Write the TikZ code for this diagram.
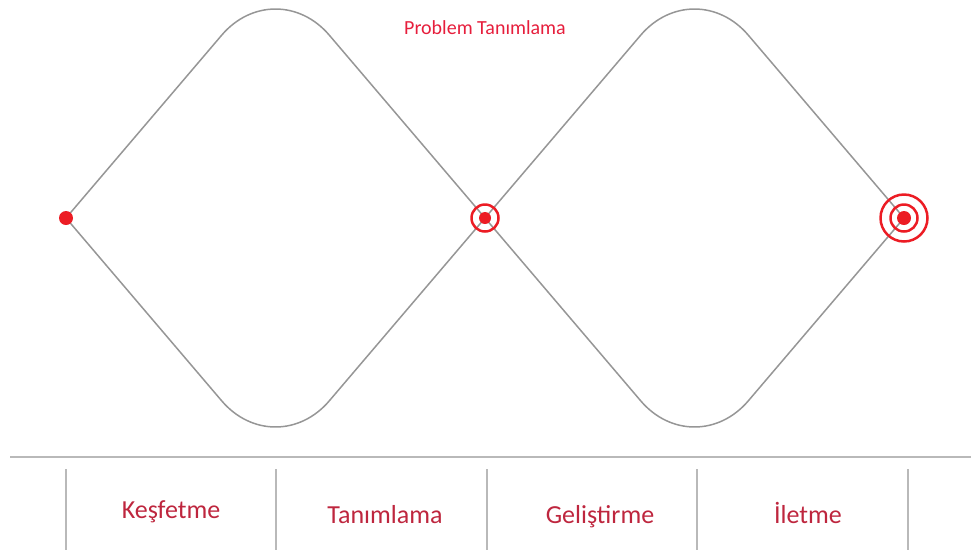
\documentclass[tikz,border=0pt]{standalone}
\usepackage{fontspec}
\setmainfont{Carlito}
\usetikzlibrary{positioning}
\definecolor{pathgray}{RGB}{150,150,150}
\definecolor{rulegray}{RGB}{185,185,185}
\definecolor{dotred}{RGB}{236,28,36}
\definecolor{titlered}{RGB}{230,30,60}
\definecolor{phasered}{RGB}{190,38,62}

\begin{document}
\begin{tikzpicture}[
  x=1pt, y=-1pt,
  curve/.style={draw=pathgray, line width=1.5pt, rounded corners=83pt},
  rule/.style={draw=rulegray, line width=1.2pt},
  dot/.style={circle, fill=dotred, inner sep=0pt, minimum size=14pt},
  ring/.style={circle, draw=dotred, line width=2.5pt, inner sep=0pt},
  phase/.style={text=phasered, font=\fontsize{26}{30}\selectfont, anchor=base},
  title/.style={text=titlered, font=\fontsize{20}{24}\selectfont, anchor=base}
]
\useasboundingbox (0,0) rectangle (971,550);
% vertices of the two diamonds
\coordinate (start) at (66,218);
\coordinate (mid) at (485,218);
\coordinate (goal) at (904,218);
\coordinate (top1) at (275.5,-28);
\coordinate (bot1) at (275.5,464);
\coordinate (top2) at (694.5,-28);
\coordinate (bot2) at (694.5,464);
\draw[curve] (start) -- (top1) -- (mid);
\draw[curve] (start) -- (bot1) -- (mid);
\draw[curve] (mid) -- (top2) -- (goal);
\draw[curve] (mid) -- (bot2) -- (goal);
% markers
\node[dot] (startdot) at (start) {};
\node[dot, minimum size=12pt] (middot) at (mid) {};
\node[ring, minimum size=27pt] (midring) at (mid) {};
\node[dot] (goaldot) at (goal) {};
\node[ring, minimum size=27pt] (goalring) at (goal) {};
\node[ring, minimum size=47pt] (goalouter) at (goal) {};
\node[title] (problem) at (485,34) {Problem Tanımlama};
% phase table
\coordinate (ruleL) at (10,457);
\coordinate (ruleR) at (971,457);
\draw[rule] (ruleL) -- (ruleR);
\foreach \x [count=\i] in {66,276,487,697,908}{
  \coordinate (sepT\i) at (\x,469);
  \coordinate (sepB\i) at (\x,550);
  \draw[rule] (sepT\i) -- (sepB\i);
}
\node[phase] (kesfetme) at (171,518) {Keşfetme};
\node[phase] (tanimlama) at (385,523) {Tanımlama};
\node[phase] (gelistirme) at (600,523) {Geliştirme};
\node[phase] (iletme) at (808,523) {İletme};
\end{tikzpicture}
\end{document}
